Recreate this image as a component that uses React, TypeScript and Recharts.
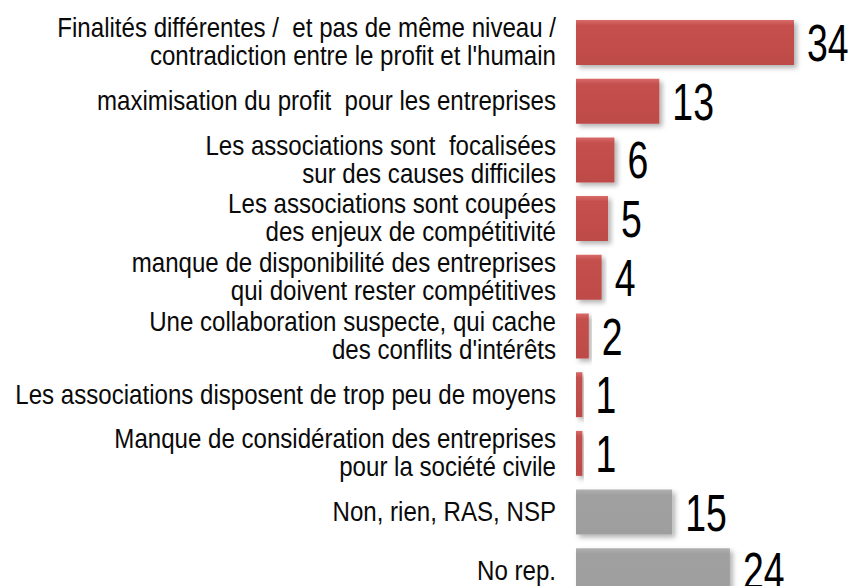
import { BarChart, Bar, XAxis, YAxis, Cell, LabelList } from 'recharts';

// Categories (line breaks as in the original slide)
const categories = [
  "Finalités différentes /  et pas de même niveau /\ncontradiction entre le profit et l'humain",
  'maximisation du profit  pour les entreprises',
  'Les associations sont  focalisées\nsur des causes difficiles',
  'Les associations sont coupées\ndes enjeux de compétitivité',
  'manque de disponibilité des entreprises\nqui doivent rester compétitives',
  "Une collaboration suspecte, qui cache\ndes conflits d'intérêts",
  'Les associations disposent de trop peu de moyens',
  'Manque de considération des entreprises\npour la société civile',
  'Non, rien, RAS, NSP',
  'No rep.',
];

const counts = [34, 13, 6, 5, 4, 2, 1, 1, 15, 24];

// answers that are not real reasons are drawn in grey
const neutralAnswers = ['Non, rien, RAS, NSP', 'No rep.'];

const data = categories.map((name, i) => ({ name, value: counts[i] }));

const FONT = '"Liberation Sans", Arial, sans-serif';

// no narrow font installed: squeeze Liberation Sans horizontally
function CategoryTick(props: any) {
  const { x, y, payload } = props;
  const lines: string[] = String(payload.value).split('\n');
  const lh = 28;
  const first = -((lines.length - 1) * lh) / 2 + 9;
  return (
    <g transform={`translate(${x},${y}) scale(0.845,1)`}>
      <text
        x={0}
        y={first}
        textAnchor="end"
        fill="#0a0a0a"
        fontSize={28.5}
        fontFamily={FONT}
        style={{ whiteSpace: 'pre' }}
      >
        {lines.map((l, i) => (
          <tspan key={i} x={0} y={first + i * lh}>
            {l}
          </tspan>
        ))}
      </text>
    </g>
  );
}

function ValueLabel(props: any) {
  const { x, y, width, height, value } = props;
  const tx = x + width + 13;
  const ty = y + height / 2 + 18.5;
  return (
    <g transform={`translate(${tx},${ty}) scale(0.72,1)`}>
      <text x={0} y={0} fill="#000" fontSize={52} fontFamily={FONT}>
        {value}
      </text>
    </g>
  );
}

export default function App() {
  return (
    <div
      style={{
        position: 'absolute',
        left: 0,
        top: 0,
        width: 854,
        height: 586,
        overflow: 'hidden',
        background: '#fff',
      }}
    >
      <BarChart
        width={854}
        height={600}
        data={data}
        layout="vertical"
        margin={{ top: 13, right: 60, bottom: 0, left: 0 }}
      >
        <defs>
          <linearGradient id="redBar" x1="0" y1="0" x2="0" y2="1">
            <stop offset="0%" stopColor="#D96B68" />
            <stop offset="12%" stopColor="#C4504E" />
            <stop offset="100%" stopColor="#BE4B48" />
          </linearGradient>
          <linearGradient id="greyBar" x1="0" y1="0" x2="0" y2="1">
            <stop offset="0%" stopColor="#B0B0B0" />
            <stop offset="12%" stopColor="#A0A0A0" />
            <stop offset="100%" stopColor="#9E9E9E" />
          </linearGradient>
          <filter id="barShadow" x="-10%" y="-20%" width="130%" height="160%">
            <feDropShadow dx="3" dy="3" stdDeviation="2.5" floodColor="#000" floodOpacity="0.3" />
          </filter>
        </defs>
        <XAxis type="number" domain={[0, 34]} hide />
        <YAxis
          type="category"
          dataKey="name"
          width={576}
          axisLine={false}
          tickLine={false}
          tickSize={0}
          tickMargin={20}
          interval={0}
          tick={<CategoryTick />}
        />
        <Bar dataKey="value" barSize={45} isAnimationActive={false} filter="url(#barShadow)">
          {data.map((d) => (
            <Cell
              key={d.name}
              fill={neutralAnswers.includes(d.name) ? 'url(#greyBar)' : 'url(#redBar)'}
            />
          ))}
          <LabelList dataKey="value" content={<ValueLabel />} />
        </Bar>
      </BarChart>
    </div>
  );
}
